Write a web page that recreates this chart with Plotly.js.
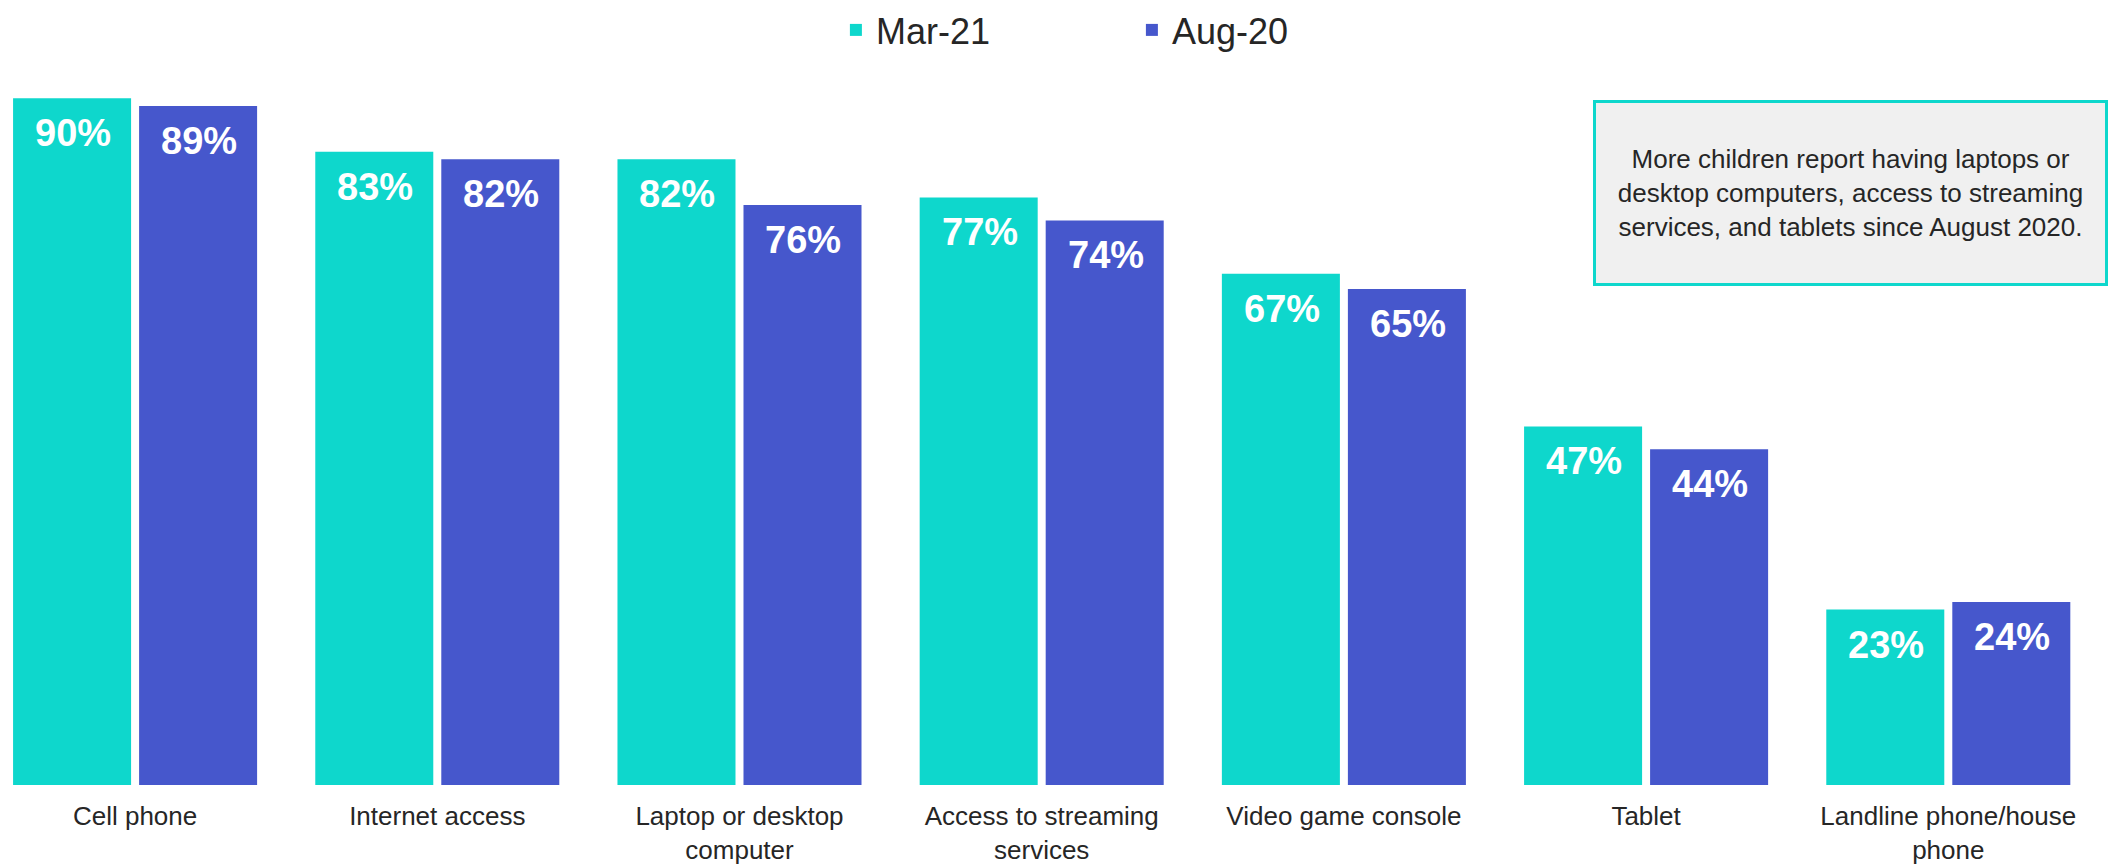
<!DOCTYPE html>
<html>
<head>
<meta charset="utf-8">
<script src="https://cdn.plot.ly/plotly-3.0.1.min.js"></script>
<style>html,body{margin:0;padding:0;background:#fff;}#chart{width:2112px;height:868px;}</style>
</head>
<body>
<div id="chart"></div>
<script>
const categories = ["Cell phone", "Internet access", "Laptop or desktop<br>computer", "Access to streaming<br>services", "Video game console", "Tablet", "Landline phone/house<br>phone"];
const seriesNames = ["Mar-21", "Aug-20"];
const mar21 = [90, 83, 82, 77, 67, 47, 23];
const aug20 = [89, 82, 76, 74, 65, 44, 24];
const noteText = "More children report having laptops or<br>desktop computers, access to streaming<br>services, and tablets since August 2020.";

const colors = ["#0ED7CC", "#4657CC"];
const FONT = "Liberation Sans, Arial, sans-serif";
const xIdx = categories.map((c, i) => i);

const traces = [mar21, aug20].map((vals, k) => ({
  type: "bar",
  name: seriesNames[k],
  x: xIdx,
  y: vals,
  marker: {color: colors[k]},
  hoverinfo: "skip"
}));

const annotations = [];
[mar21, aug20].forEach((vals, k) => {
  vals.forEach((v, i) => {
    annotations.push({
      x: i, y: v, xref: "x", yref: "y",
      xshift: k === 0 ? -62 : 64,
      yshift: -35,
      yanchor: "middle", xanchor: "center",
      text: v + "%",
      showarrow: false,
      font: {family: FONT, size: 38, color: "#ffffff", weight: "bold"}
    });
  });
});
annotations.push({
  xref: "paper", yref: "paper", x: 0.881, y: 0.7765,
  xanchor: "center", yanchor: "middle",
  text: noteText, showarrow: false,
  width: 509, height: 180,
  bgcolor: "#F0F0F0", bordercolor: "#0ED7CC", borderwidth: 3, borderpad: 0,
  align: "center",
  font: {family: FONT, size: 26, color: "#262626"}
});

const layout = {
  width: 2112, height: 868,
  margin: {l: 0, r: 12, t: 13, b: 83},
  paper_bgcolor: "#ffffff", plot_bgcolor: "#ffffff",
  barmode: "group",
  bargap: 0.166,
  bargroupgap: 0.0635,
  showlegend: true,
  legend: {
    orientation: "h", x: 0.539, xanchor: "center", y: 0.99, yanchor: "middle",
    font: {family: FONT, size: 36, color: "#262626"},
    entrywidth: 251, bgcolor: "rgba(0,0,0,0)"
  },
  xaxis: {
    type: "linear",
    range: [-0.447, 6.502],
    tickmode: "array",
    tickvals: xIdx,
    ticktext: categories,
    showgrid: false, zeroline: false, showline: false, ticks: "",
    ticklabelstandoff: 13,
    tickfont: {family: FONT, size: 26, color: "#262626"}
  },
  yaxis: {
    range: [0, 100], visible: false, showgrid: false, zeroline: false, fixedrange: true
  },
  annotations: annotations
};

Plotly.newPlot("chart", traces, layout, {displayModeBar: false, staticPlot: true});
</script>
</body>
</html>
